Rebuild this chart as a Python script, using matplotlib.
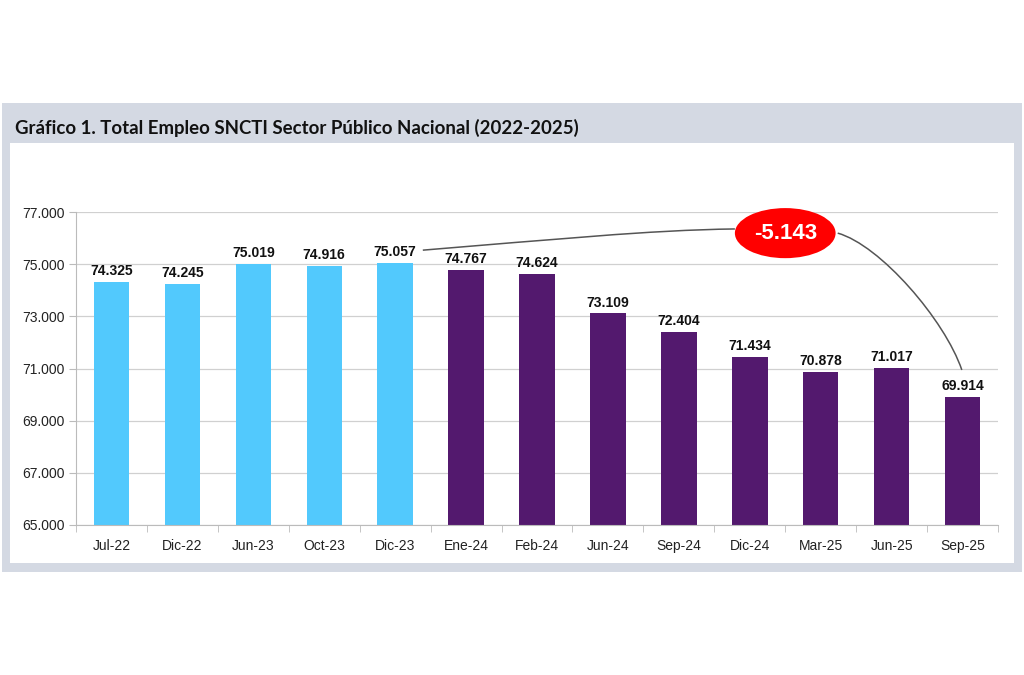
import numpy as np
import matplotlib.pyplot as plt
from matplotlib.patches import Rectangle, Ellipse, PathPatch
from matplotlib.path import Path

# data
labels = ['Jul-22', 'Dic-22', 'Jun-23', 'Oct-23', 'Dic-23', 'Ene-24', 'Feb-24',
          'Jun-24', 'Sep-24', 'Dic-24', 'Mar-25', 'Jun-25', 'Sep-25']
values = [74.325, 74.245, 75.019, 74.916, 75.057, 74.767, 74.624,
          73.109, 72.404, 71.434, 70.878, 71.017, 69.914]
n_blue = 5
diff_label = '-5.143'
title = 'Gráfico 1. Total Empleo SNCTI Sector Público Nacional (2022-2025)'

light_blue = '#52C9FD'
purple = '#53196E'
frame = '#D4D9E3'

fig = plt.figure(figsize=(10.24, 6.75), dpi=100)

# outer panel and header band
fig.patches.append(Rectangle((2/1024, 1-572/675), 1020/1024, 469/675,
                             transform=fig.transFigure, facecolor=frame,
                             edgecolor='none', zorder=-2))
fig.patches.append(Rectangle((10/1024, 1-563/675), 1004/1024, 420/675,
                             transform=fig.transFigure, facecolor='white',
                             edgecolor='none', zorder=-1))
fig.text(15/1024, 1-128/675, title, fontsize=13.4, fontweight='bold',
         family=['Lato', 'DejaVu Sans'], color='#111111', va='center')

ax = fig.add_axes([76/1024, 1-525/675, 922/1024, 313/675])
ax.set_zorder(2)
ax.patch.set_alpha(0)
x = np.arange(len(labels))
colors = [light_blue]*n_blue + [purple]*(len(labels)-n_blue)
ax.bar(x, np.array(values) - 65, bottom=65, width=0.5, color=colors, zorder=2)

for xi, v in zip(x, values):
    ax.text(xi, v + 0.15, f'{v:.3f}', ha='center', va='bottom', fontsize=10,
            fontweight='bold', family='Liberation Sans', color='#111111')

ax.set_xlim(-0.5, len(labels)-0.5)
ax.set_ylim(65, 77)
ax.set_yticks(np.arange(65, 77.1, 2))
ax.set_yticklabels([f'{t:.3f}' for t in np.arange(65, 77.1, 2)])
ax.set_xticks(x)
ax.set_xticklabels(labels)
ax.set_xticks(np.arange(-0.5, len(labels), 1), minor=True)
ax.tick_params(axis='x', which='major', length=0, pad=10)
ax.tick_params(axis='x', which='minor', length=5, color='#BBBBBB')
ax.tick_params(axis='y', length=5, color='#BBBBBB', pad=3)
for lab in ax.get_xticklabels() + ax.get_yticklabels():
    lab.set_family('Liberation Sans')
    lab.set_fontsize(10)
    lab.set_color('#222222')
ax.grid(axis='y', color='#D0D0D0', linewidth=0.9, zorder=0)
ax.set_axisbelow(True)
for s in ['top', 'right']:
    ax.spines[s].set_visible(False)
ax.spines['left'].set_color('#BBBBBB')
ax.spines['bottom'].set_color('#BBBBBB')

# annotation: ellipse and connecting curves
ex, ey = 9.50, 76.19
ax.add_patch(Ellipse((ex, ey), 1.42, 1.92, facecolor='#FF0000',
                     edgecolor='none', zorder=5, clip_on=False))
ax.text(ex, ey, diff_label, ha='center', va='center', color='white',
        fontsize=16, fontweight='bold', family='Liberation Sans', zorder=6)

# from the Dic-23 label to the ellipse
p = Path([(4.39, values[4] + 0.48), (6.18, 75.93), (7.59, 76.31), (ex - 0.71, 76.35)],
         [Path.MOVETO, Path.CURVE4, Path.CURVE4, Path.CURVE4])
ax.add_patch(PathPatch(p, facecolor='none', edgecolor='#555555', lw=1.1, zorder=4))

# from the ellipse down to the Sep-25 label
p2 = Path([(ex + 0.74, 76.19), (10.84, 75.73), (11.75, 72.86), (11.99, values[12] + 1.03)],
          [Path.MOVETO, Path.CURVE4, Path.CURVE4, Path.CURVE4])
ax.add_patch(PathPatch(p2, facecolor='none', edgecolor='#555555', lw=1.1, zorder=4))

fig.savefig('out.png', dpi=100)
